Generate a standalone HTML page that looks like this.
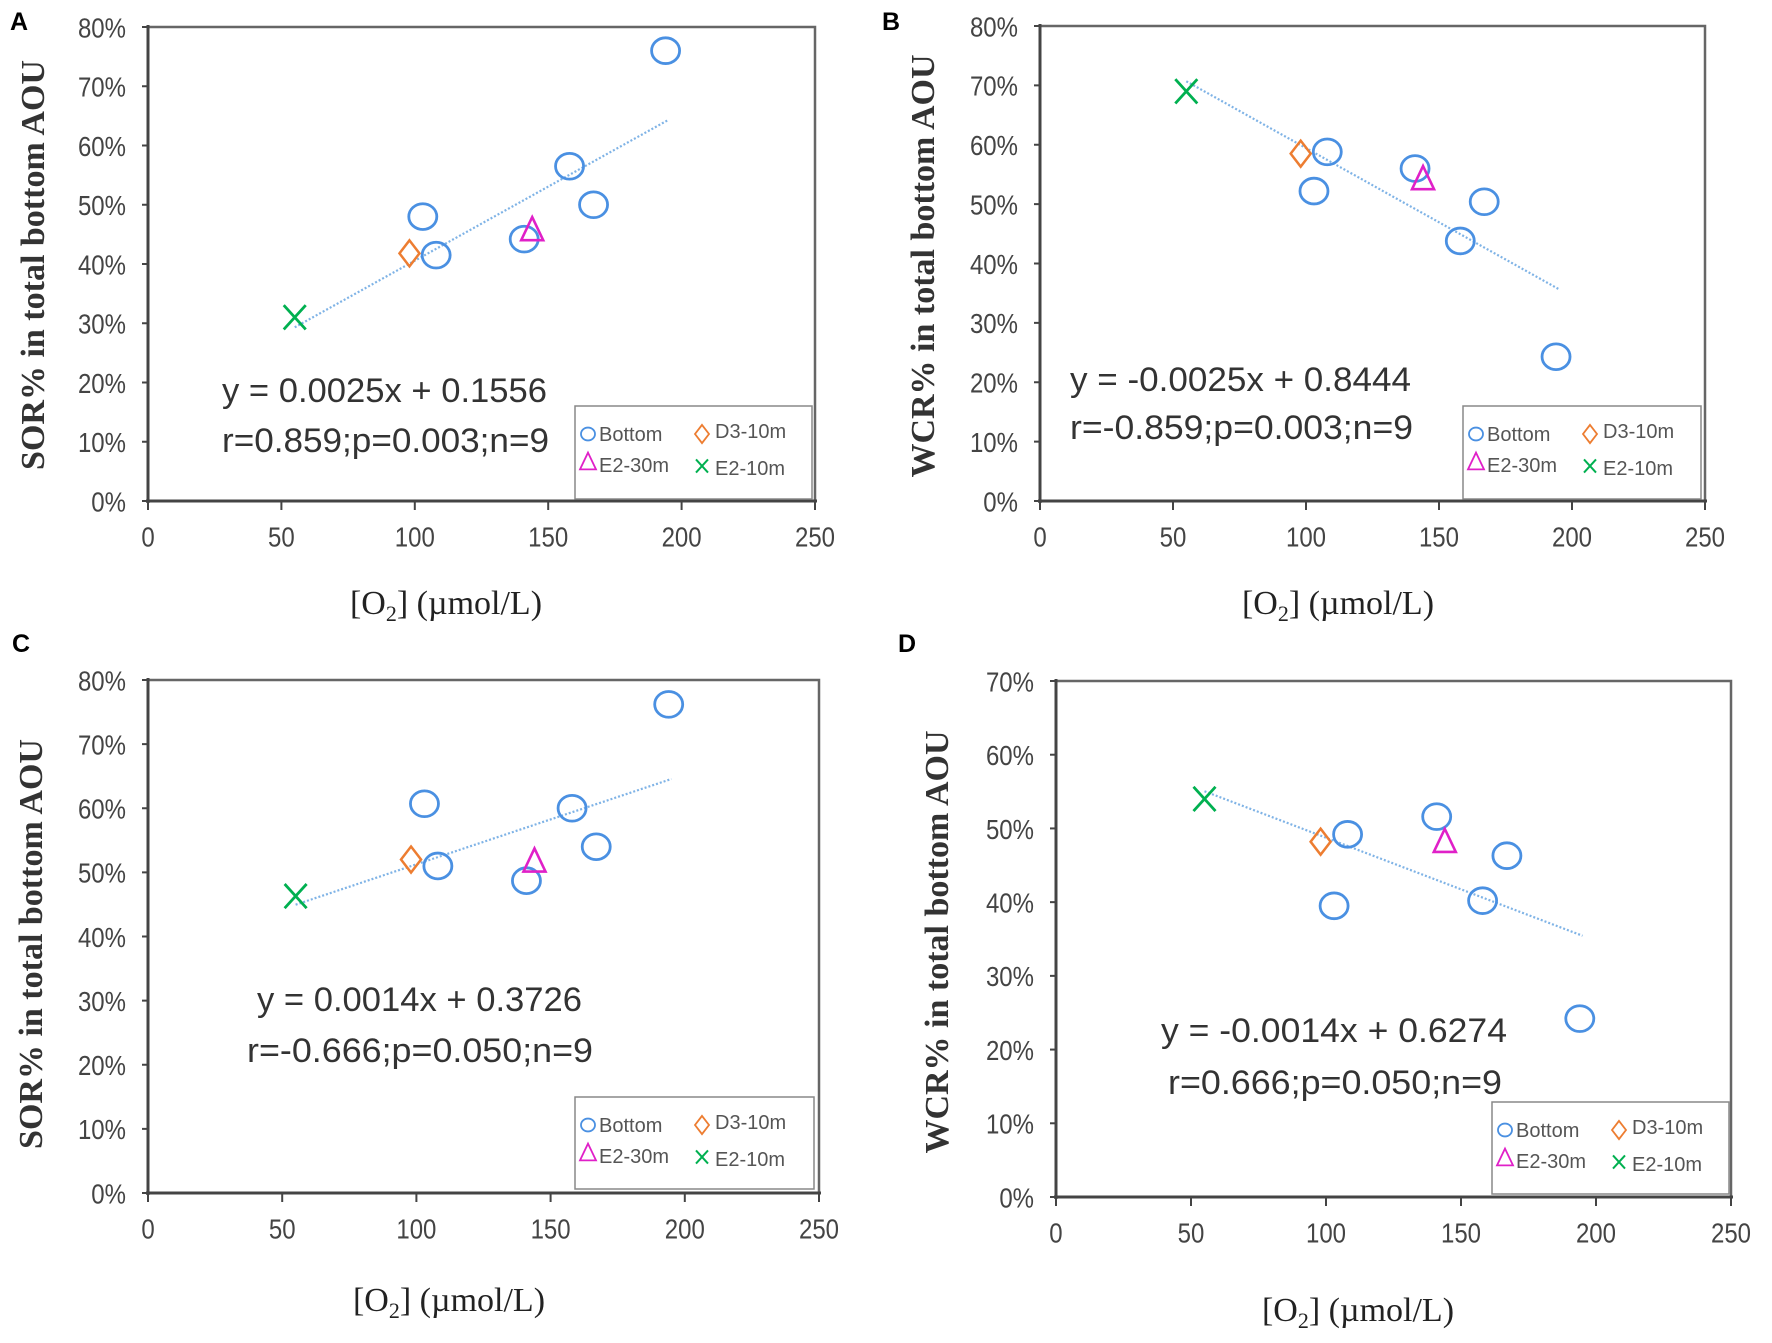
<!DOCTYPE html>
<html><head><meta charset="utf-8"><style>
html,body{margin:0;padding:0;background:#fff;}
svg{display:block;}
.tk{font-family:"Liberation Sans",sans-serif;font-size:24px;fill:#444;}
.ttl{font-family:"Liberation Serif",serif;font-size:34px;fill:#222;}
.yttl{font-family:"Liberation Serif",serif;font-size:34px;font-weight:bold;fill:#333;}
.eq{font-family:"Liberation Sans",sans-serif;font-size:34px;fill:#333;}
.lg{font-family:"Liberation Sans",sans-serif;font-size:20px;fill:#555;}
.pl{font-family:"Liberation Sans",sans-serif;font-size:25px;font-weight:bold;fill:#000;}
</style></head><body>
<svg id="chart" width="1772" height="1343" viewBox="0 0 1772 1343" xmlns="http://www.w3.org/2000/svg"></svg>
<script>
// shared x values (O2, umol/L)
const bottomX = [103, 108, 141, 158, 167, 194];
const d3X = [98];
const e230X = [144];
const e210X = [55];
const xTicks = [0, 50, 100, 150, 200, 250];
// Panel A
const aBottom = [48, 41.5, 44.2, 56.5, 50, 76];
const aD3 = [41.8];
const aE230 = [45.5];
const aE210 = [31];
const aSlope = 0.0025, aIntercept = 0.1556;
// Panel B
const bBottom = [52.2, 58.8, 56, 43.8, 50.4, 24.3];
const bD3 = [58.5];
const bE230 = [54];
const bE210 = [69];
const bSlope = -0.0025, bIntercept = 0.8444;
// Panel C
const cBottom = [60.7, 51, 48.7, 60, 54, 76.2];
const cD3 = [52];
const cE230 = [51.5];
const cE210 = [46.3];
const cSlope = 0.0014, cIntercept = 0.3726;
// Panel D
const dBottom = [39.5, 49.2, 51.6, 40.2, 46.3, 24.2];
const dD3 = [48.2];
const dE230 = [48];
const dE210 = [54];
const dSlope = -0.0014, dIntercept = 0.6274;
const trendRange = [55, 195];
const yTicks80 = [0, 10, 20, 30, 40, 50, 60, 70, 80];
const yTicks70 = [0, 10, 20, 30, 40, 50, 60, 70];

const NS = "http://www.w3.org/2000/svg";
const svg = document.getElementById('chart');
function mk(tag, attrs, parent, text) {
  const e = document.createElementNS(NS, tag);
  for (const k in attrs) e.setAttribute(k, attrs[k]);
  if (text !== undefined) e.textContent = text;
  (parent || svg).appendChild(e);
  return e;
}
function circle(g, x, y, r) { return mk('ellipse', {cx: x, cy: y, rx: r, ry: r * 0.92, fill: 'none', stroke: '#4a90e2', 'stroke-width': 2.8}, g); }
function diamond(g, x, y, s) { return mk('polygon', {points: `${x},${y - s * 1.3} ${x + s},${y} ${x},${y + s * 1.3} ${x - s},${y}`, fill: 'none', stroke: '#ed7d31', 'stroke-width': 2.5}, g); }
function tri(g, x, y, s) { return mk('polygon', {points: `${x},${y - s * 1.3} ${x + s},${y + s * 0.8} ${x - s},${y + s * 0.8}`, fill: 'none', stroke: '#e020c8', 'stroke-width': 2.6}, g); }
function cross(g, x, y, s) {
  return mk('path', {d: `M${x - s},${y - s * 1.1}L${x + s},${y + s * 1.1}M${x + s},${y - s * 1.1}L${x - s},${y + s * 1.1}`, stroke: '#00b050', 'stroke-width': 2.8, fill: 'none'}, g);
}

const panels = [
  {id: 'a', label: 'A', lx: 10, ly: 30, x0: 148, x1: 815, yTop: 27, yBot: 501, ymax: 80, ticks: yTicks80,
   bottom: aBottom, d3: aD3, e230: aE230, e210: aE210, slope: aSlope, icpt: aIntercept,
   ytitle: 'SOR% in total bottom AOU', ytx: 32, yty: 265, xtx: 446, xty: 614,
   eq1: 'y = 0.0025x + 0.1556', eq2: 'r=0.859;p=0.003;n=9', e1: [222, 547, 402], e2: [222, 549, 452],
   leg: [575, 406, 812, 499]},
  {id: 'b', label: 'B', lx: 882, ly: 30, x0: 1040, x1: 1705, yTop: 26, yBot: 501, ymax: 80, ticks: yTicks80,
   bottom: bBottom, d3: bD3, e230: bE230, e210: bE210, slope: bSlope, icpt: bIntercept,
   ytitle: 'WCR% in total bottom AOU', ytx: 922, yty: 266, xtx: 1338, xty: 614,
   eq1: 'y =  -0.0025x + 0.8444', eq2: 'r=-0.859;p=0.003;n=9', e1: [1070, 1411, 391], e2: [1070, 1413, 439],
   leg: [1463, 406, 1701, 499]},
  {id: 'c', label: 'C', lx: 12, ly: 652, x0: 148, x1: 819, yTop: 680, yBot: 1193, ymax: 80, ticks: yTicks80,
   bottom: cBottom, d3: cD3, e230: cE230, e210: cE210, slope: cSlope, icpt: cIntercept,
   ytitle: 'SOR% in total bottom AOU', ytx: 30, yty: 944, xtx: 449, xty: 1311,
   eq1: 'y = 0.0014x + 0.3726', eq2: 'r=-0.666;p=0.050;n=9', e1: [257, 582, 1011], e2: [247, 593, 1062],
   leg: [575, 1097, 814, 1189]},
  {id: 'd', label: 'D', lx: 898, ly: 652, x0: 1056, x1: 1731, yTop: 681, yBot: 1197, ymax: 70, ticks: yTicks70,
   bottom: dBottom, d3: dD3, e230: dE230, e210: dE210, slope: dSlope, icpt: dIntercept,
   ytitle: 'WCR% in total bottom AOU', ytx: 936, yty: 942, xtx: 1358, xty: 1321,
   eq1: 'y =  -0.0014x + 0.6274', eq2: 'r=0.666;p=0.050;n=9', e1: [1161, 1507, 1042], e2: [1168, 1502, 1094],
   leg: [1492, 1102, 1729, 1194]}
];

panels.forEach(p => {
  const g = mk('g', {});
  
  
  const xs = v => p.x0 + (v / 250) * (p.x1 - p.x0);
  const ys = v => p.yBot - (v / p.ymax) * (p.yBot - p.yTop);
  const lab = mk('text', {x: p.lx, y: p.ly, class: 'pl'}, g, p.label);
  
  
  const fr = mk('rect', {x: p.x0, y: p.yTop, width: p.x1 - p.x0, height: p.yBot - p.yTop, fill: 'none', stroke: '#666', 'stroke-width': 2.5}, g);
  
  
  mk('line', {x1: p.x0, y1: p.yTop - 2, x2: p.x0, y2: p.yBot + 2, stroke: '#444', 'stroke-width': 3}, g);
  mk('line', {x1: p.x0 - 2, y1: p.yBot, x2: p.x1 + 2, y2: p.yBot, stroke: '#444', 'stroke-width': 3}, g);
  p.ticks.forEach(t => {
    const y = ys(t);
    mk('line', {x1: p.x0 - 6, y1: y, x2: p.x0, y2: y, stroke: '#444', 'stroke-width': 2}, g);
    const tl = mk('text', {x: p.x0 - 22, y: y + 9, 'text-anchor': 'end', class: 'tk', transform: `translate(0 ${y}) scale(1 1.15) translate(0 ${-y})`}, g, t + '%');
    
    
  });
  xTicks.forEach(t => {
    const x = xs(t);
    mk('line', {x1: x, y1: p.yBot, x2: x, y2: p.yBot + 9, stroke: '#444', 'stroke-width': 2}, g);
    const tl = mk('text', {x: x, y: p.yBot + 44, 'text-anchor': 'middle', class: 'tk', transform: `translate(0 ${p.yBot + 35}) scale(1 1.15) translate(0 ${-(p.yBot + 35)})`}, g, String(t));
    
    
  });
  const yt = mk('text', {x: 0, y: 0, class: 'yttl', 'text-anchor': 'middle', transform: `translate(${p.ytx + 12} ${p.yty}) rotate(-90)`}, g, p.ytitle);
  
  
  const xt = mk('text', {x: p.xtx, y: p.xty, class: 'ttl', 'text-anchor': 'middle'}, g);
  
  
  mk('tspan', {}, xt, '[O');
  mk('tspan', {dy: 7, 'font-size': 22}, xt, '2');
  mk('tspan', {dy: -7}, xt, '] (\u00b5mol/L)');
  const tr = mk('line', {x1: xs(trendRange[0]), y1: ys((p.slope * trendRange[0] + p.icpt) * 100), x2: xs(trendRange[1]), y2: ys((p.slope * trendRange[1] + p.icpt) * 100), stroke: '#7fb3e6', 'stroke-width': 2.2, 'stroke-dasharray': '2 2'}, g);
  
  
  bottomX.forEach((x, i) => {
    const c = circle(g, xs(x), ys(p.bottom[i]), 14);
    
    
  });
  d3X.forEach((x, i) => {
    const c = diamond(g, xs(x), ys(p.d3[i]), 10);
    
    
  });
  e230X.forEach((x, i) => {
    const c = tri(g, xs(x), ys(p.e230[i]), 11);
    
    
  });
  e210X.forEach((x, i) => {
    const c = cross(g, xs(x), ys(p.e210[i]), 11);
    
    
  });
  const q1 = mk('text', {x: p.e1[0], y: p.e1[2], class: 'eq', textLength: p.e1[1] - p.e1[0], lengthAdjust: 'spacingAndGlyphs'}, g, p.eq1);
  
  
  const q2 = mk('text', {x: p.e2[0], y: p.e2[2], class: 'eq', textLength: p.e2[1] - p.e2[0], lengthAdjust: 'spacingAndGlyphs'}, g, p.eq2);
  
  
  const [lx0, ly0, lx1, ly1] = p.leg;
  const lg = mk('g', {}, g);
  
  
  mk('rect', {x: lx0, y: ly0, width: lx1 - lx0, height: ly1 - ly0, fill: '#fff', stroke: '#888', 'stroke-width': 1.5}, lg);
  const r1 = ly0 + 28, r2 = ly0 + 60, c1 = lx0 + 13, c2 = lx0 + 127;
  circle(lg, c1, r1, 7).setAttribute('stroke-width', 1.8);
  const t1 = mk('text', {x: c1 + 11, y: r1 + 7, class: 'lg'}, lg, 'Bottom');
  
  
  diamond(lg, c2, r1, 7).setAttribute('stroke-width', 1.8);
  const t2 = mk('text', {x: c2 + 13, y: r1 + 4, class: 'lg'}, lg, 'D3-10m');
  
  
  tri(lg, c1, r2 - 3, 8).setAttribute('stroke-width', 1.8);
  const t3 = mk('text', {x: c1 + 11, y: r2 + 6, class: 'lg'}, lg, 'E2-30m');
  
  
  cross(lg, c2, r2, 6).setAttribute('stroke-width', 2);
  const t4 = mk('text', {x: c2 + 13, y: r2 + 9, class: 'lg'}, lg, 'E2-10m');
  
  
});
</script>
</body></html>
